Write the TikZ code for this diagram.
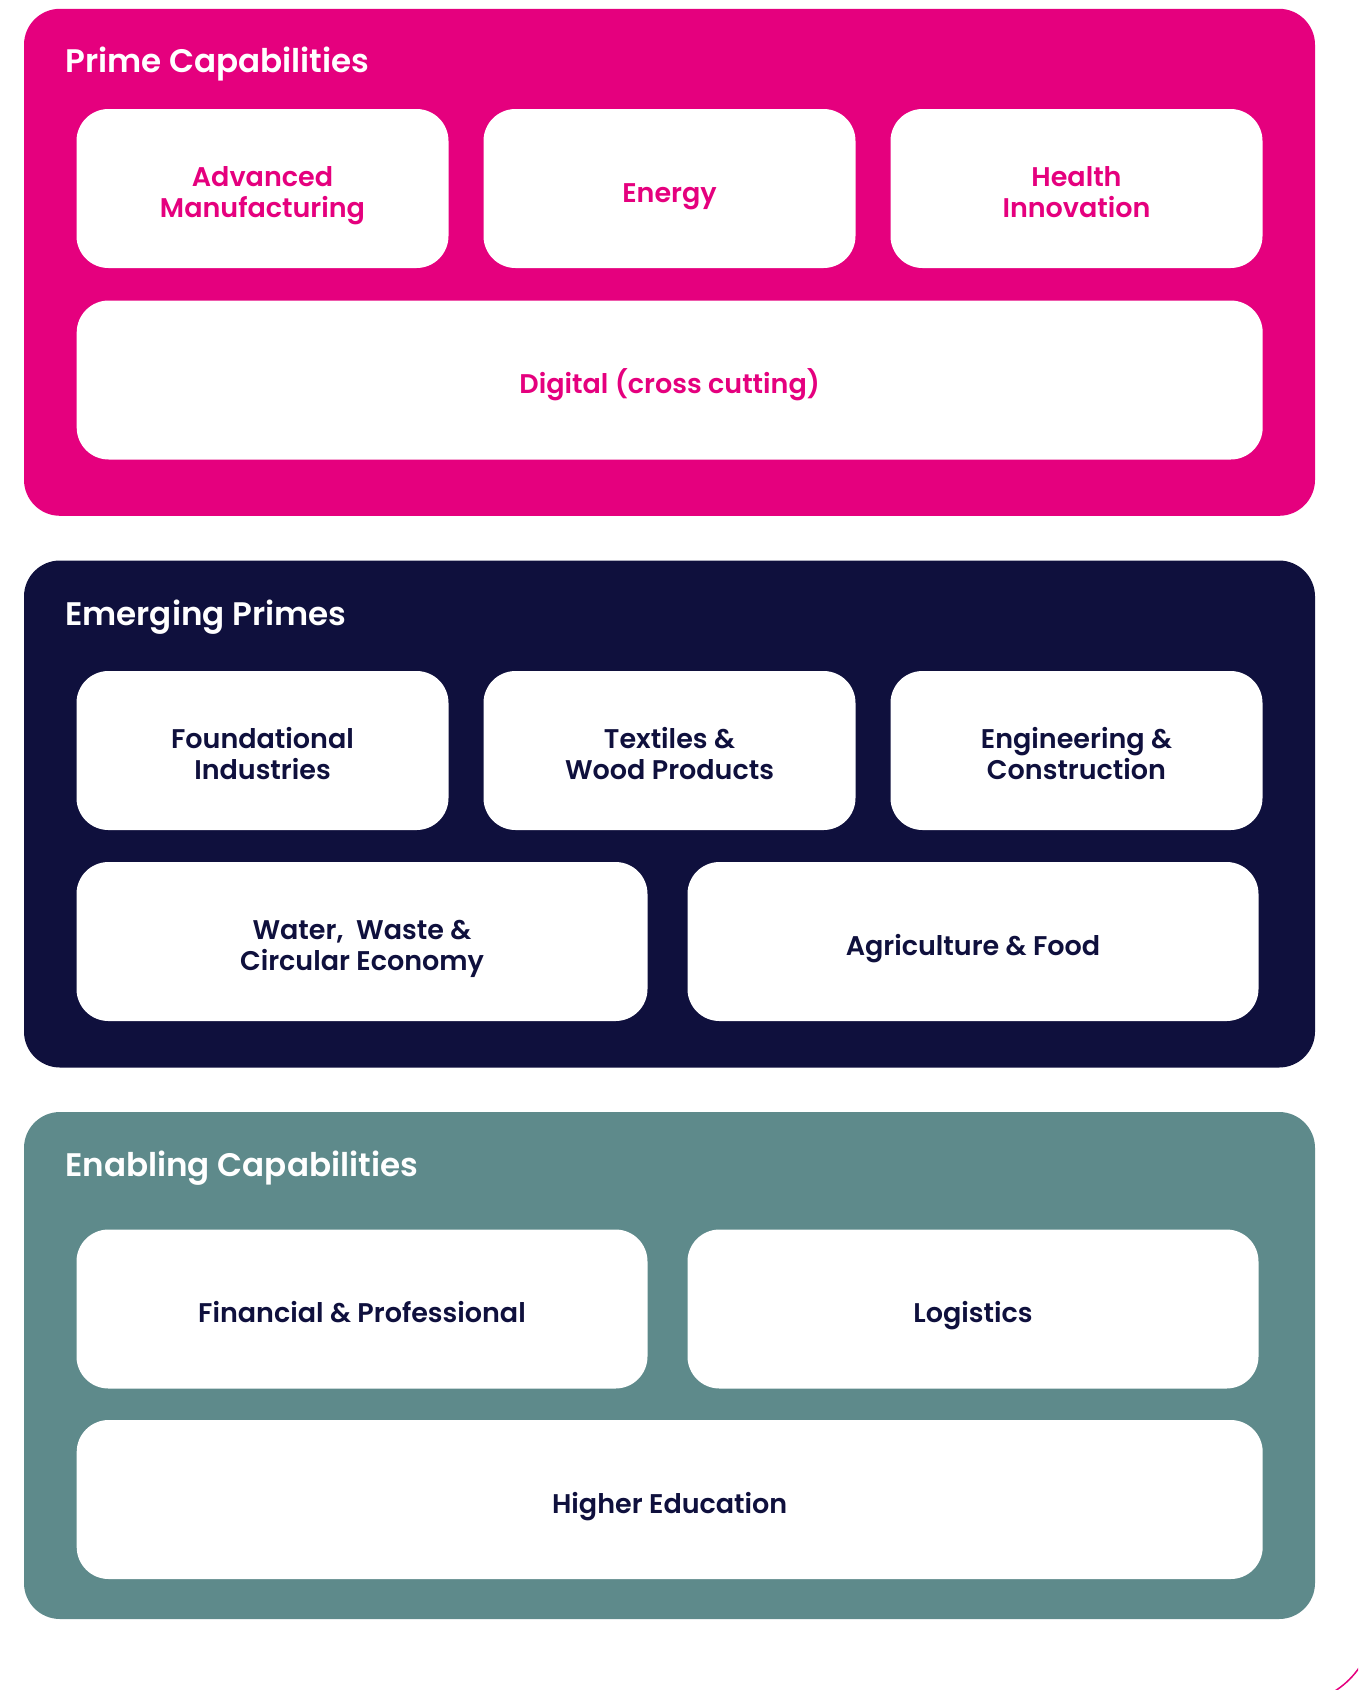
\documentclass[tikz,border=0pt]{standalone}
\usepackage{fontspec}
\setmainfont{Poppins}[UprightFont={* SemiBold}]

\definecolor{primepink}{HTML}{E5007E}
\definecolor{primenavy}{HTML}{0F103D}
\definecolor{primeteal}{HTML}{5E8A8B}

\begin{document}
\begin{tikzpicture}[x=1pt,y=-1pt]

    \tikzset{
      panel/.style={
        rounded corners=36pt,
        inner sep=0pt,
        minimum width=1291pt,
        minimum height=507pt,
      },
      card/.style={
        fill=white,
        rounded corners=32pt,
        inner sep=0pt,
        align=center,
        minimum height=159pt,
        text height=27pt,
        text depth=0pt,
        text=primenavy,
        font=\fontsize{27}{31}\selectfont,
      },
      twolines/.style={
        text height=58pt,
      },
      heading/.style={
        anchor=base west,
        inner sep=0pt,
        text=white,
        font=\fontsize{32.6}{40}\selectfont,
      },
    }
    \useasboundingbox (0,0) rectangle (1358,1690);

	% frame running off the page
	\begin{scope}
	\clip (0,0) rectangle (1358,1690);
	\draw[color={primepink},line width = 1.5] (-100,-100) [rounded corners=84] rectangle (1374,1704);
	\end{scope}

	% panels
	\node[panel,fill=primepink] (prime) at (669.5,262.3) {};
	\node[panel,fill=primenavy] (emerging) at (669.5,814) {};
	\node[panel,fill=primeteal] (enabling) at (669.5,1365.5) {};

	\node[heading] (primetitle) at (65,72) {Prime Capabilities};
	\node[heading] (emergingtitle) at (65,625) {Emerging Primes};
	\node[heading] (enablingtitle) at (65,1176) {Enabling Capabilities};

	% prime capabilities
	\node[card,twolines,text=primepink,minimum width=372] (advman) at (262.5,188.5) {Advanced\\Manufacturing};
	\node[card,text=primepink,minimum width=372] (energy) at (669.5,188.5) {Energy};
	\node[card,twolines,text=primepink,minimum width=372] (health) at (1076.5,188.5) {Health\\Innovation};
	\node[card,text=primepink,minimum width=1186] (digital) at (669.7,380) {Digital (cross cutting)};

	% emerging primes
	\node[card,twolines,minimum width=372] (found) at (262.5,750.5) {Foundational\\Industries};
	\node[card,twolines,minimum width=372] (textiles) at (669.5,750.5) {Textiles \&\\Wood Products};
	\node[card,twolines,minimum width=372] (engin) at (1076.5,750.5) {Engineering \&\\Construction};
	\node[card,twolines,minimum width=571] (water) at (362,941.5) {Water,\ \ Waste \&\\Circular Economy};
	\node[card,minimum width=571] (agri) at (973,941.5) {Agriculture \& Food};

	% enabling capabilities
	\node[card,minimum width=571] (finance) at (362,1309) {Financial \& Professional};
	\node[card,minimum width=571] (logist) at (973,1309) {Logistics};
	\node[card,minimum width=1186] (highered) at (669.7,1499.5) {Higher Education};

\end{tikzpicture}
\end{document}
